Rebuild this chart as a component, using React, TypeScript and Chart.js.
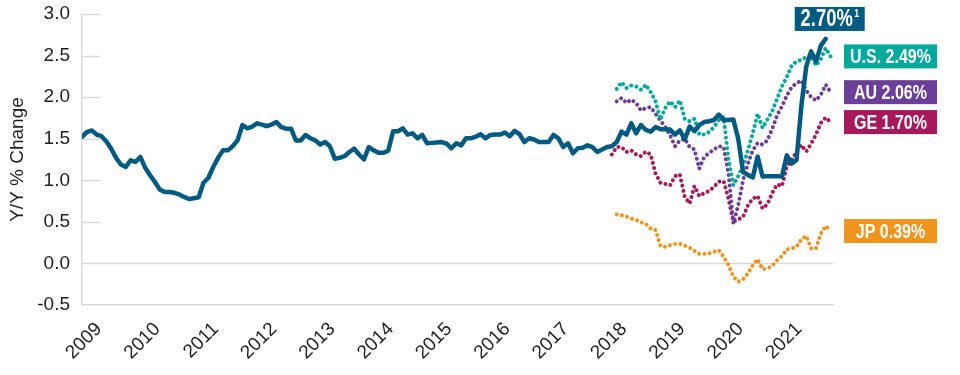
import React, { useEffect, useRef } from "react";
import { Chart, registerables } from "chart.js";

Chart.register(...registerables);

// Monthly observations; index 0 = first month shown at the y axis.
const YEAR_LABELS = ["2009", "2010", "2011", "2012", "2013", "2014", "2015", "2016", "2017", "2018", "2019", "2020", "2021"];
const YEAR_TICK_POS = [3.5, 15.5, 27.5, 39.5, 51.5, 63.5, 75.5, 87.5, 99.5, 111.5, 123.5, 135.5, 147.5];
const Y_TICKS = [-0.5, 0, 0.5, 1.0, 1.5, 2.0, 2.5, 3.0];

const MAIN_START = 0;
const MAIN = [
  1.52, 1.58, 1.6, 1.55, 1.53, 1.47, 1.38, 1.27, 1.19, 1.16,
  1.24, 1.22, 1.28, 1.15, 1.06, 0.98, 0.89, 0.86, 0.86, 0.85,
  0.83, 0.8, 0.775, 0.785, 0.795, 0.97, 1.03, 1.16, 1.27, 1.36,
  1.36, 1.41, 1.48, 1.665, 1.625, 1.645, 1.685, 1.67, 1.65, 1.67,
  1.7, 1.64, 1.62, 1.62, 1.48, 1.48, 1.545, 1.505, 1.48, 1.43,
  1.46, 1.41, 1.26, 1.27, 1.29, 1.34, 1.38, 1.31, 1.25, 1.4,
  1.36, 1.33, 1.33, 1.355, 1.59, 1.59, 1.625, 1.55, 1.565, 1.505,
  1.545, 1.445, 1.45, 1.455, 1.46, 1.44, 1.385, 1.445, 1.42, 1.505,
  1.505, 1.525, 1.555, 1.505, 1.545, 1.55, 1.55, 1.575, 1.53, 1.595,
  1.555, 1.46, 1.505, 1.49, 1.46, 1.46, 1.46, 1.545, 1.505, 1.4,
  1.445, 1.325, 1.385, 1.39, 1.42, 1.4, 1.34, 1.37, 1.4, 1.41,
  1.46, 1.585, 1.55, 1.685, 1.565, 1.665, 1.605, 1.585, 1.64, 1.615,
  1.615, 1.61, 1.55, 1.6, 1.49, 1.645, 1.59, 1.665, 1.7, 1.71,
  1.725, 1.79, 1.725, 1.725, 1.73, 1.5, 1.1, 1.065, 1.035, 1.285,
  1.045, 1.05, 1.05, 1.05, 1.045, 1.3, 1.2, 1.245, 1.9, 2.37,
  2.55, 2.43, 2.62, 2.7,
];

const US_START = 110;
const US = [
  2.1, 2.18, 2.11, 2.14, 2.13, 2.09, 2.15, 2.06, 1.95, 1.73,
  1.87, 1.95, 1.88, 1.96, 1.74, 1.71, 1.74, 1.55, 1.55, 1.58,
  1.64, 1.72, 1.76, 1.25, 0.94, 1.05, 1.18, 1.36, 1.57, 1.8,
  1.63, 1.73, 1.83, 1.98, 2.13, 2.24, 2.38, 2.43, 2.45, 2.48,
  2.5, 2.38, 2.46, 2.59, 2.49,
];

const AU_START = 110;
const AU = [
  1.95, 1.99, 1.93, 1.97, 1.93, 1.84, 1.87, 1.88, 1.8, 1.72,
  1.64, 1.54, 1.41, 1.48, 1.5, 1.4, 1.37, 1.14, 1.28, 1.33,
  1.37, 1.41, 1.4, 1.08, 0.48, 0.7, 1.0, 1.2, 1.36, 1.45,
  1.43, 1.48, 1.62, 1.78, 1.89, 2.02, 2.12, 2.17, 2.2, 2.08,
  2.0, 1.96, 2.03, 2.15, 2.06,
];

const GE_START = 109;
const GE = [
  1.31, 1.4, 1.4, 1.34, 1.36, 1.31, 1.29, 1.345, 1.31, 1.08,
  0.97, 0.955, 0.94, 1.05, 1.07, 0.8, 0.72, 0.93, 0.81, 0.845,
  0.87, 0.92, 0.985, 0.99, 0.78, 0.5, 0.53, 0.56, 0.7, 0.78,
  0.81, 0.66, 0.71, 0.85, 0.95, 0.93, 1.17, 1.245, 1.345, 1.425,
  1.345, 1.44, 1.55, 1.69, 1.755, 1.7,
];

const JP_START = 110;
const JP = [
  0.59, 0.58, 0.565, 0.54, 0.525, 0.495, 0.475, 0.42, 0.4, 0.21,
  0.2, 0.22, 0.235, 0.235, 0.215, 0.19, 0.15, 0.115, 0.115, 0.12,
  0.14, 0.16, 0.08, -0.02, -0.16, -0.22, -0.19, -0.12, -0.02, 0.05,
  -0.07, -0.06, -0.03, 0.04, 0.09, 0.17, 0.18, 0.2, 0.29, 0.33,
  0.18, 0.18, 0.36, 0.45, 0.39,
];

const MAIN_COLOR = "#005a82";
const US_COLOR = "#00a99c";
const AU_COLOR = "#6b3e99";
const GE_COLOR = "#a6195b";
const JP_COLOR = "#f0941e";

const toPoints = (start: number, arr: number[]) => arr.map((v, i) => ({ x: start + i, y: v }));

const FONT = '"Liberation Sans", Arial, Helvetica, sans-serif';
const CONDENSE = 0.8;

function drawCondensed(ctx: any, text: string, cx: number, cy: number, size: number) {
  ctx.save();
  ctx.font = `bold ${size}px ${FONT}`;
  ctx.textAlign = "center";
  ctx.textBaseline = "middle";
  ctx.translate(cx, cy);
  ctx.scale(CONDENSE, 1);
  ctx.fillText(text, 0, 0);
  ctx.restore();
}

const gridPlugin = {
  id: "shortGrid",
  beforeDatasetsDraw(chart: any) {
    const { ctx, chartArea, scales } = chart;
    const y = scales.y;
    ctx.save();
    ctx.strokeStyle = "#dadada";
    ctx.lineWidth = 1.5;
    Y_TICKS.forEach((v) => {
      if (v === -0.5) return;
      const py = Math.round(y.getPixelForValue(v)) + 0.5;
      ctx.beginPath();
      ctx.moveTo(chartArea.left, py);
      ctx.lineTo(v === 0 ? chartArea.right : chartArea.left + 18, py);
      ctx.stroke();
    });
    ctx.restore();
  },
};

const labelPlugin = {
  id: "endLabels",
  afterDatasetsDraw(chart: any) {
    const { ctx, chartArea, scales } = chart;
    const x = scales.x;
    const y = scales.y;
    const items = [
      { text: `U.S. ${US[US.length - 1].toFixed(2)}%`, v: US[US.length - 1], c: US_COLOR },
      { text: `AU ${AU[AU.length - 1].toFixed(2)}%`, v: AU[AU.length - 1], c: AU_COLOR },
      { text: `GE ${GE[GE.length - 1].toFixed(2)}%`, v: GE[GE.length - 1], c: GE_COLOR },
      { text: `JP ${JP[JP.length - 1].toFixed(2)}%`, v: JP[JP.length - 1], c: JP_COLOR },
    ];
    ctx.save();
    const bx = chartArea.right + 11;
    const bw = 93;
    const bh = 24;
    items.forEach((it) => {
      const py = y.getPixelForValue(it.v);
      ctx.fillStyle = it.c;
      ctx.fillRect(bx, py - bh / 2, bw, bh);
      ctx.fillStyle = "#ffffff";
      drawCondensed(ctx, it.text, bx + bw / 2, py + 1, 20);
    });
    // main series end label
    const lastIdx = MAIN_START + MAIN.length - 1;
    const lastV = MAIN[MAIN.length - 1];
    const px = x.getPixelForValue(lastIdx) + 4;
    const py = y.getPixelForValue(lastV) - 20;
    const mw = 70;
    ctx.fillStyle = MAIN_COLOR;
    ctx.fillRect(px - mw / 2, py - bh / 2, mw, bh);
    ctx.fillStyle = "#ffffff";
    drawCondensed(ctx, `${lastV.toFixed(2)}%`, px - 3, py + 1, 23);
    drawCondensed(ctx, "1", px + 27, py - 5, 11);
    ctx.restore();
  },
};

export default function App() {
  const ref = useRef<HTMLCanvasElement | null>(null);

  useEffect(() => {
    if (!ref.current) return;
    const dotted = (data: any, color: string) => ({
      data,
      borderColor: color,
      backgroundColor: color,
      borderWidth: 4,
      borderDash: [0.01, 5.3],
      borderCapStyle: "round" as const,
      borderJoinStyle: "round" as const,
      pointRadius: 0,
      tension: 0,
    });
    const chart = new Chart(ref.current, {
      type: "line",
      data: {
        datasets: [
          {
            data: toPoints(MAIN_START, MAIN),
            borderColor: MAIN_COLOR,
            backgroundColor: MAIN_COLOR,
            borderWidth: 4.5,
            borderJoinStyle: "round",
            borderCapStyle: "round",
            pointRadius: 0,
            tension: 0,
          },
          dotted(toPoints(US_START, US), US_COLOR),
          dotted(toPoints(AU_START, AU), AU_COLOR),
          dotted(toPoints(GE_START, GE), GE_COLOR),
          dotted(toPoints(JP_START, JP), JP_COLOR),
        ],
      },
      options: {
        animation: false,
        responsive: false,
        maintainAspectRatio: false,
        layout: { padding: { top: 14, right: 127, left: 0, bottom: 0 } },
        plugins: { legend: { display: false }, tooltip: { enabled: false } },
        scales: {
          x: {
            type: "linear",
            min: 0,
            max: 154.5,
            grid: { display: false, drawTicks: false },
            border: { display: true, color: "#dadada", width: 1.5 },
            afterBuildTicks: (s: any) => {
              s.ticks = YEAR_TICK_POS.map((v) => ({ value: v }));
            },
            afterFit: (s: any) => {
              s.height = 70;
              s.paddingLeft = 0;
              s.paddingRight = 0;
            },
            ticks: {
              autoSkip: false,
              minRotation: 45,
              maxRotation: 45,
              padding: 13,
              color: "#1e1e1e",
              font: { family: FONT, size: 19 },
              callback: (v: any) => {
                const i = YEAR_TICK_POS.indexOf(Number(v));
                return i >= 0 ? YEAR_LABELS[i] : "";
              },
            },
          },
          y: {
            min: -0.5,
            max: 3.0,
            grid: { display: false, drawTicks: false },
            border: { display: true, color: "#dadada", width: 1.5 },
            afterBuildTicks: (s: any) => {
              s.ticks = Y_TICKS.map((v) => ({ value: v }));
            },
            afterFit: (s: any) => {
              s.width = 82;
              s.paddingTop = 0;
              s.paddingBottom = 0;
            },
            ticks: {
              padding: 12,
              color: "#1e1e1e",
              font: { family: FONT, size: 19 },
              callback: (v: any) => Number(v).toFixed(1),
            },
            title: {
              display: true,
              text: "Y/Y % Change",
              color: "#1e1e1e",
              padding: { top: 6, bottom: 0 },
              font: { family: FONT, size: 19 },
            },
          },
        },
      },
      plugins: [gridPlugin, labelPlugin],
    });
    return () => chart.destroy();
  }, []);

  return (
    <div style={{ position: "absolute", left: 0, top: 0, width: 960, height: 375, background: "#ffffff" }}>
      <canvas ref={ref} width={960} height={375} style={{ display: "block", width: 960, height: 375 }} />
    </div>
  );
}
